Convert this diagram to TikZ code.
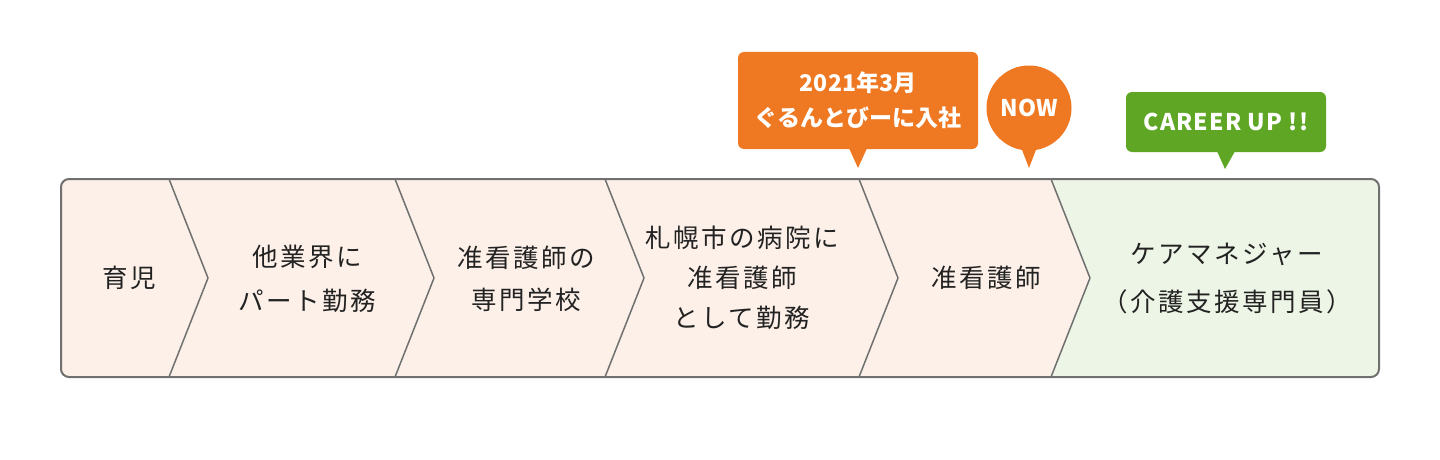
\documentclass[tikz,border=0pt]{standalone}
\usepackage{fontspec}
\newfontfamily\jp{Noto Sans CJK JP}[LetterSpace=10]
\newfontfamily\jptag{Noto Sans CJK JP}
\newfontfamily\jptagwide{Noto Sans CJK JP}[LetterSpace=5]
\usetikzlibrary{positioning}
\definecolor{stagefill}{HTML}{FCF0E8}
\definecolor{goalfill}{HTML}{EDF5E6}
\definecolor{framegray}{HTML}{707070}
\definecolor{textgray}{HTML}{222222}
\definecolor{tagorange}{HTML}{EF7822}
\definecolor{taggreen}{HTML}{5EA623}

\begin{document}
\begin{tikzpicture}
[x=1pt,y=-1pt,
stage/.style={align=center,text=textgray,font=\jp\fontsize{25.5}{42}\selectfont},
divider/.style={draw=framegray,line width=1.5pt,line join=round},
tag/.style={fill=tagorange,rounded corners=6pt,text=white,align=center,
  inner sep=0pt,font=\jptag\bfseries\fontsize{23}{35}\selectfont}]
\useasboundingbox (0,0) rectangle (1440,460);

% band
\begin{scope}
\clip[rounded corners=8pt] (61,179) rectangle (1379,377);
\fill[stagefill] (61,179) rectangle (1379,377);
\fill[goalfill] (1051,179) -- (1090,278) -- (1051,377) -- (1379,377) -- (1379,179) -- cycle;
\end{scope}
\foreach \x in {169,395,605,859,1051}
  \draw[divider] (\x,179) -- ++(39,99) -- ++(-39,99);
\draw[draw=framegray,line width=2pt,rounded corners=8pt] (61,179) rectangle (1379,377);

% stages
\node[stage] (childcare) at (129,278) {育児};
\node[stage,font=\jp\fontsize{25.5}{44}\selectfont] (part time) at (307,279) {他業界に\\パート勤務};
\node[stage] (school) at (526,279) {准看護師の\\専門学校};
\node[stage,font=\jp\fontsize{25.5}{40}\selectfont] (hospital) at (742,278) {札幌市の病院に\\准看護師\\として勤務};
\node[stage] (nurse) at (986,278) {准看護師};
\node[stage,font=\jp\fontsize{25.5}{48}\selectfont] (care manager) at (1227,279) {ケアマネジャー\\（介護支援専門員）};

% tags
\node[tag,minimum width=240pt,minimum height=97pt] (joined) at (858,100.5) {2021年3月\\ぐるんとびーに入社};
\coordinate (joined tip) at (858,168);
\fill[tagorange] (joined.south) ++(-9,-1) -- ++(18,0) -- (joined tip) -- cycle;

\node[tag,circle,minimum size=85pt] (now) at (1029,108) {NOW};
\coordinate (now tip) at (1029,168);
\fill[tagorange] (now.center) ++(-10,34) -- ++(20,0) -- (now tip) -- cycle;

\node[tag,fill=taggreen,minimum width=200pt,minimum height=60pt,
  font=\jptagwide\bfseries\fontsize{23}{35}\selectfont] (career up) at (1226,122) {CAREER UP !!};
\coordinate (career tip) at (1225,169);
\fill[taggreen] (career up.south) ++(-9,-1) -- ++(18,0) -- (career tip) -- cycle;
\end{tikzpicture}
\end{document}
